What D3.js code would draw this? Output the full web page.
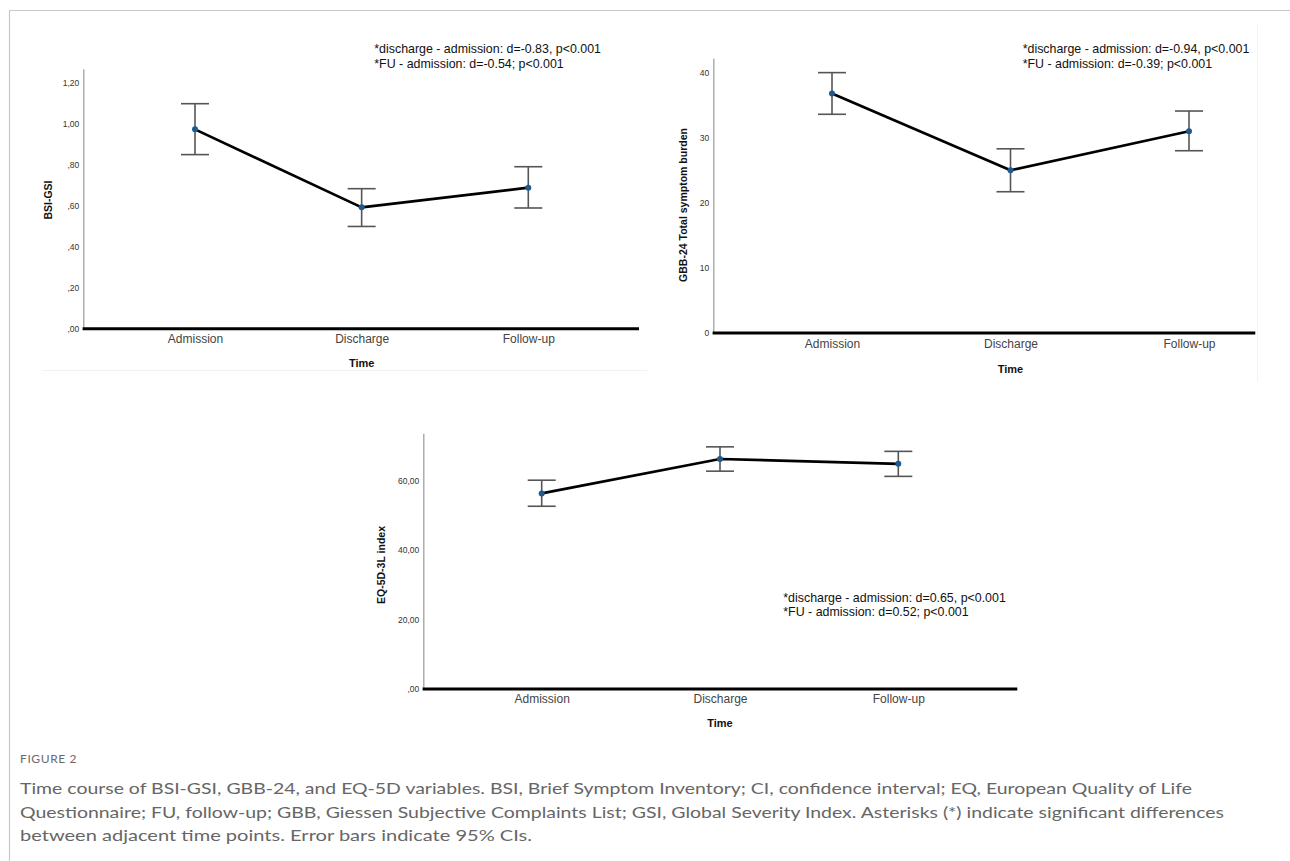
<!DOCTYPE html>
<html>
<head>
<meta charset="utf-8">
<script src="https://cdn.jsdelivr.net/npm/d3@7"></script>
<style>
  body { margin: 0; background: #fff; }
  svg { display: block; }
</style>
</head>
<body>
<svg id="figure" width="1290" height="861"></svg>
<script>
// values
const timePoints = ["Admission", "Discharge", "Follow-up"];

const bsiMean  = [0.971, 0.591, 0.687];
const bsiLower = [0.848, 0.498, 0.588];
const bsiUpper = [1.096, 0.682, 0.789];
const bsiTicks = [0, 0.2, 0.4, 0.6, 0.8, 1.0, 1.2];

const gbbMean  = [36.8, 25.0, 31.0];
const gbbLower = [33.6, 21.7, 28.0];
const gbbUpper = [40.0, 28.3, 34.1];
const gbbTicks = [0, 10, 20, 30, 40];

const eqMean  = [56.3, 66.2, 64.8];
const eqLower = [52.6, 62.7, 61.2];
const eqUpper = [60.1, 69.7, 68.4];
const eqTicks = [0, 20, 40, 60];

const bsiNotes = ["*discharge - admission: d=-0.83, p<0.001", "*FU - admission: d=-0.54; p<0.001"];
const gbbNotes = ["*discharge - admission: d=-0.94, p<0.001", "*FU - admission: d=-0.39; p<0.001"];
const eqNotes  = ["*discharge - admission: d=0.65, p<0.001", "*FU - admission: d=0.52; p<0.001"];

const captionLines = [
    "Time course of BSI-GSI, GBB-24, and EQ-5D variables. BSI, Brief Symptom Inventory; CI, confidence interval; EQ, European Quality of Life",
    "Questionnaire; FU, follow-up; GBB, Giessen Subjective Complaints List; GSI, Global Severity Index. Asterisks (*) indicate significant differences",
    "between adjacent time points. Error bars indicate 95% CIs."
];

const chartFont = "'Liberation Sans', Arial, sans-serif";

// SPSS style decimal comma, no leading zero: ",20" / "1,00" / "60,00"
function commaFormat(v) {
    let s = d3.format(".2f")(v).replace(".", ",");
    if (s.startsWith("0,")) s = s.substring(1);
    return s;
}

const svg = d3.select("#figure");

// outer frame of the figure box
svg.append("line").attr("x1", 9.5).attr("x2", 9.5).attr("y1", 10).attr("y2", 861)
    .attr("stroke", "#c9c9c9").attr("stroke-width", 1.2);
svg.append("line").attr("x1", 9).attr("x2", 1290).attr("y1", 10.5).attr("y2", 10.5)
    .attr("stroke", "#c9c9c9").attr("stroke-width", 1.2);

// faint edges of the pasted panel images
svg.append("line").attr("x1", 42).attr("x2", 647).attr("y1", 370.5).attr("y2", 370.5)
    .attr("stroke", "#f1f1f1").attr("stroke-width", 1);
svg.append("line").attr("x1", 1257.5).attr("x2", 1257.5).attr("y1", 25).attr("y2", 382)
    .attr("stroke", "#f3f3f3").attr("stroke-width", 1);

drawPanel({
    mean: bsiMean, lower: bsiLower, upper: bsiUpper, ticks: bsiTicks, notes: bsiNotes,
    format: commaFormat, yLabel: "BSI-GSI",
    axisLeftX: 83.3, axisRightX: 639, pointStart: 195, pointEnd: 528.3,
    top: 69, base: 328.7, yMax: 1.265,
    yLabelX: 48.5, yLabelY: 200, catY: 343.5, timeY: 366.5,
    noteX: 374.3, noteY: 53.3
});

drawPanel({
    mean: gbbMean, lower: gbbLower, upper: gbbUpper, ticks: gbbTicks, notes: gbbNotes,
    format: d3.format("d"), yLabel: "GBB-24 Total symptom burden",
    axisLeftX: 713.3, axisRightX: 1255.3, pointStart: 832, pointEnd: 1189,
    top: 58.3, base: 333, yMax: 42.2,
    yLabelX: 683.5, yLabelY: 205, catY: 348.5, timeY: 373,
    noteX: 1022.7, noteY: 53.3
});

drawPanel({
    mean: eqMean, lower: eqLower, upper: eqUpper, ticks: eqTicks, notes: eqNotes,
    format: commaFormat, yLabel: "EQ-5D-3L index",
    axisLeftX: 423.3, axisRightX: 1017.3, pointStart: 541.7, pointEnd: 898.3,
    top: 433.3, base: 689, yMax: 73.6,
    yLabelX: 381, yLabelY: 565, catY: 704, timeY: 727,
    noteX: 783.3, noteY: 601.7
});

function drawPanel(p) {
    let rows = timePoints.map(function (t, i) {
        return {time: t, mean: p.mean[i], lower: p.lower[i], upper: p.upper[i]};
    });

    let xScale = d3.scalePoint()
        .domain(timePoints)
        .range([p.pointStart, p.pointEnd]);

    let yScale = d3.scaleLinear()
        .domain([0, p.yMax])
        .range([p.base, p.top]);

    let g = svg.append("g");

    // y axis, thin grey line, no tick marks
    let yAxis = g.append("g")
        .attr("transform", "translate(" + p.axisLeftX + ",0)")
        .call(d3.axisLeft(yScale).tickValues(p.ticks).tickFormat(p.format).tickSize(0).tickPadding(4));
    yAxis.select(".domain").attr("stroke", "#a0a0a0").attr("stroke-width", 1.3);
    yAxis.selectAll("text")
        .attr("font-family", chartFont)
        .attr("font-size", "8.5px")
        .attr("fill", "#333");

    // x axis: labels from the point scale, heavy black baseline
    let xAxis = g.append("g")
        .attr("transform", "translate(0," + (p.catY - 12.5) + ")")
        .call(d3.axisBottom(xScale).tickSize(0).tickPadding(3));
    xAxis.select(".domain").remove();
    xAxis.selectAll("text")
        .attr("font-family", chartFont)
        .attr("font-size", "12px")
        .attr("fill", "#444");

    g.append("line")
        .attr("x1", p.axisLeftX - 0.7)
        .attr("x2", p.axisRightX)
        .attr("y1", yScale(0))
        .attr("y2", yScale(0))
        .attr("stroke", "#000")
        .attr("stroke-width", 3);

    // axis titles
    g.append("text")
        .attr("x", xScale("Discharge"))
        .attr("y", p.timeY)
        .attr("text-anchor", "middle")
        .attr("font-family", chartFont)
        .attr("font-size", "11px")
        .attr("font-weight", "bold")
        .attr("fill", "#111")
        .text("Time");

    g.append("text")
        .attr("transform", "translate(" + p.yLabelX + "," + p.yLabelY + ") rotate(-90)")
        .attr("text-anchor", "middle")
        .attr("dy", "0.35em")
        .attr("font-family", chartFont)
        .attr("font-size", "10.5px")
        .attr("font-weight", "bold")
        .attr("fill", "#111")
        .text(p.yLabel);

    // 95% CI error bars
    let bars = g.selectAll(".ci").data(rows).enter().append("g").attr("class", "ci");
    bars.append("line")
        .attr("x1", d => xScale(d.time)).attr("x2", d => xScale(d.time))
        .attr("y1", d => yScale(d.lower)).attr("y2", d => yScale(d.upper))
        .attr("stroke", "#555").attr("stroke-width", 1.6);
    bars.append("line")
        .attr("x1", d => xScale(d.time) - 14).attr("x2", d => xScale(d.time) + 14)
        .attr("y1", d => yScale(d.upper)).attr("y2", d => yScale(d.upper))
        .attr("stroke", "#555").attr("stroke-width", 1.6);
    bars.append("line")
        .attr("x1", d => xScale(d.time) - 14).attr("x2", d => xScale(d.time) + 14)
        .attr("y1", d => yScale(d.lower)).attr("y2", d => yScale(d.lower))
        .attr("stroke", "#555").attr("stroke-width", 1.6);

    // mean line
    g.append("path")
        .datum(rows)
        .attr("fill", "none")
        .attr("stroke", "#000")
        .attr("stroke-width", 2.7)
        .attr("stroke-linejoin", "round")
        .attr("d", d3.line()
            .x(function (d) { return xScale(d.time); })
            .y(function (d) { return yScale(d.mean); }));

    g.selectAll(".pt").data(rows).enter().append("circle")
        .attr("class", "pt")
        .attr("cx", d => xScale(d.time))
        .attr("cy", d => yScale(d.mean))
        .attr("r", 3)
        .attr("fill", "#1d5a8e");

    // effect size notes
    g.selectAll(".note").data(p.notes).enter().append("text")
        .attr("class", "note")
        .attr("x", p.noteX)
        .attr("y", (d, i) => p.noteY + i * 14.5)
        .attr("font-family", chartFont)
        .attr("font-size", "12.4px")
        .attr("fill", "#111")
        .text(d => d);
}

// caption
svg.append("text")
    .attr("x", 20)
    .attr("y", 763)
    .attr("font-family", "Lato, 'Open Sans', sans-serif")
    .attr("font-size", "12px")
    .attr("letter-spacing", "0.6px")
    .attr("fill", "#6a6a6a")
    .text("FIGURE 2");

const captionEnds = [1192, 1224, 532];
svg.selectAll(".caption").data(captionLines).enter().append("text")
    .attr("class", "caption")
    .attr("x", 20)
    .attr("y", (d, i) => 794 + i * 23.5)
    .attr("font-family", "Lato, 'Open Sans', sans-serif")
    .attr("font-size", "16px")
    .attr("fill", "#666")
    .attr("textLength", (d, i) => captionEnds[i] - 20)
    .attr("lengthAdjust", "spacingAndGlyphs")
    .text(d => d);
</script>
</body>
</html>
